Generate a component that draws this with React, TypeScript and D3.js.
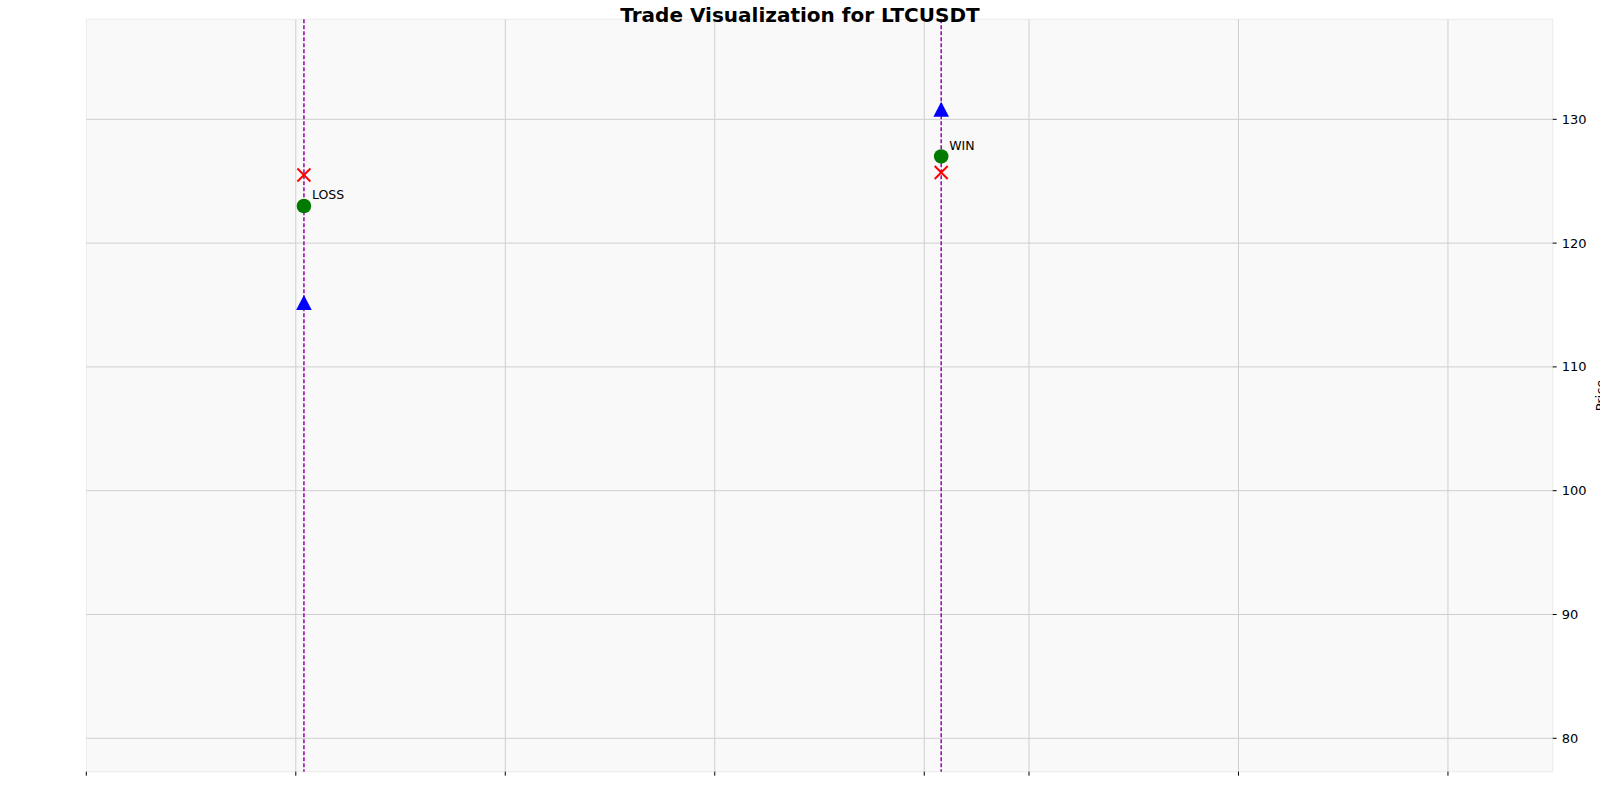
import React from "react";
import * as d3 from "d3";

const tradeTimes = ["2024-10-25T01:52", "2024-10-31T03:53"];
const entryPrices = [123.0, 127.0];
const stopPrices = [125.5, 125.7];
const targetPrices = [115.2, 130.8];
const outcomes = ["LOSS", "WIN"];
const yTicks = [80, 90, 100, 110, 120, 130];
const xTickDates = [
  "2024-10-23T00:00", "2024-10-25T00:00", "2024-10-27T00:00", "2024-10-29T00:00",
  "2024-10-31T00:00", "2024-11-01T00:00", "2024-11-03T00:00", "2024-11-05T00:00",
];
const xDomain = ["2024-10-23T00:00", "2024-11-06T00:00"];
const yDomain = [77.3, 138.08];

const W = 1600, H = 800;
const L = 86.3, R = 1552.7, T = 19.3, B = 771.7;

export default function App() {
  const x = d3.scaleTime().domain(xDomain.map((d) => new Date(d))).range([L, R]);
  const y = d3.scaleLinear().domain(yDomain).range([B, T]);
  const font = "'DejaVu Sans', sans-serif";
  const tri = "M0,-7.6L7.8,7.4L-7.8,7.4Z";
  return (
    <svg width={W} height={H} style={{ position: "absolute", left: 0, top: 0 }} fontFamily={font}>
      <rect x={0} y={0} width={W} height={H} fill="#ffffff" />
      <rect x={L} y={T} width={R - L} height={B - T} fill="#f9f9f9" stroke="#ebebeb" strokeWidth={1} />
      {yTicks.map((v) => (
        <line key={"gy" + v} x1={L} x2={R} y1={y(v)} y2={y(v)} stroke="#cfcfcf" strokeWidth={1} />
      ))}
      {xTickDates.map((d) => {
        const xv = x(new Date(d));
        return (
          <g key={"gx" + d}>
            {xv > L + 1 && <line x1={xv} x2={xv} y1={T} y2={B} stroke="#cfcfcf" strokeWidth={1} />}
            <line x1={xv} x2={xv} y1={B} y2={B + 4} stroke="#000" strokeWidth={1} />
          </g>
        );
      })}
      {yTicks.map((v) => (
        <g key={"ty" + v}>
          <line x1={R} x2={R + 4} y1={y(v)} y2={y(v)} stroke="#000" strokeWidth={1} />
          <text x={R + 9} y={y(v)} dy="0.35em" fontSize={13} fill="#000">{v}</text>
        </g>
      ))}
      <text transform={`translate(1604.5,${(T + B) / 2}) rotate(-90)`} textAnchor="middle" fontSize={13} fill="#000">Price</text>
      {tradeTimes.map((t, i) => {
        const xv = x(new Date(t));
        return (
          <g key={"tr" + i}>
            <line x1={xv} x2={xv} y1={T} y2={B} stroke="#9a00b0" strokeWidth={1.5} strokeDasharray="4,2" />
            <path d={tri} transform={`translate(${xv},${y(targetPrices[i])})`} fill="#0000ff" />
            <circle cx={xv} cy={y(entryPrices[i])} r={7.3} fill="#007a00" />
            <g stroke="#ff0000" strokeWidth={2}>
              <line x1={xv - 6.5} x2={xv + 6.5} y1={y(stopPrices[i]) - 6.5} y2={y(stopPrices[i]) + 6.5} />
              <line x1={xv - 6.5} x2={xv + 6.5} y1={y(stopPrices[i]) + 6.5} y2={y(stopPrices[i]) - 6.5} />
            </g>
            <text x={xv + 8} y={y(entryPrices[i]) - 11} dy="0.35em" fontSize={12.5} fill="#000">{outcomes[i]}</text>
          </g>
        );
      })}
      <text x={800} y={22.3} textAnchor="middle" fontSize={20} fontWeight="bold" fill="#000">Trade Visualization for LTCUSDT</text>
    </svg>
  );
}
